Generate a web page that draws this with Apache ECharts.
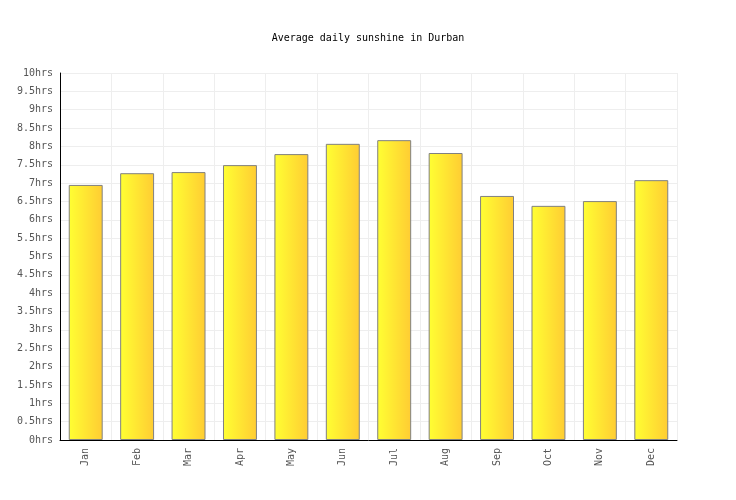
<!DOCTYPE html>
<html>
<head>
<meta charset="utf-8">
<script src="https://cdn.jsdelivr.net/npm/echarts@6/dist/echarts.min.js"></script>
<style>html,body{margin:0;padding:0;background:#fff;}#c{width:736px;height:500px;}</style>
</head>
<body>
<div id="c"></div>
<script>
const months = ['Jan','Feb','Mar','Apr','May','Jun','Jul','Aug','Sep','Oct','Nov','Dec'];
const sunshine = [6.95, 7.27, 7.30, 7.49, 7.79, 8.07, 8.17, 7.82, 6.65, 6.38, 6.51, 7.08];
const chartTitle = 'Average daily sunshine in Durban';
const unit = 'hrs';

const font = 'DejaVu Sans Mono';
const chart = echarts.init(document.getElementById('c'), null, {renderer: 'canvas'});
chart.setOption({
  animation: false,
  backgroundColor: '#fff',
  title: {
    text: chartTitle,
    left: 'center',
    top: 28,
    textStyle: {fontFamily: font, fontSize: 10, fontWeight: 'normal', color: '#000'}
  },
  grid: {left: 60, right: 59, top: 73, bottom: 60, containLabel: false},
  xAxis: {
    type: 'category',
    data: months,
    boundaryGap: true,
    axisLine: {lineStyle: {color: '#000', width: 1}},
    axisTick: {show: false},
    axisLabel: {rotate: 90, fontFamily: font, fontSize: 10, color: '#555', margin: 8},
    splitLine: {show: true, interval: 0, lineStyle: {color: '#eeeeee', width: 1}}
  },
  yAxis: {
    type: 'value',
    min: 0, max: 10, interval: 0.5,
    axisLine: {show: true, lineStyle: {color: '#000', width: 1}},
    axisTick: {show: false},
    axisLabel: {fontFamily: font, fontSize: 10, color: '#555', margin: 7,
      formatter: v => v + unit},
    splitLine: {show: true, lineStyle: {color: '#eeeeee', width: 1}}
  },
  series: [{
    type: 'bar',
    data: sunshine,
    barWidth: '66%',
    itemStyle: {
      borderColor: '#808080',
      borderWidth: 1,
      color: new echarts.graphic.LinearGradient(0, 0, 1, 0, [
        {offset: 0, color: '#ffff33'},
        {offset: 1, color: '#ffcc33'}
      ])
    }
  }]
});
</script>
</body>
</html>
